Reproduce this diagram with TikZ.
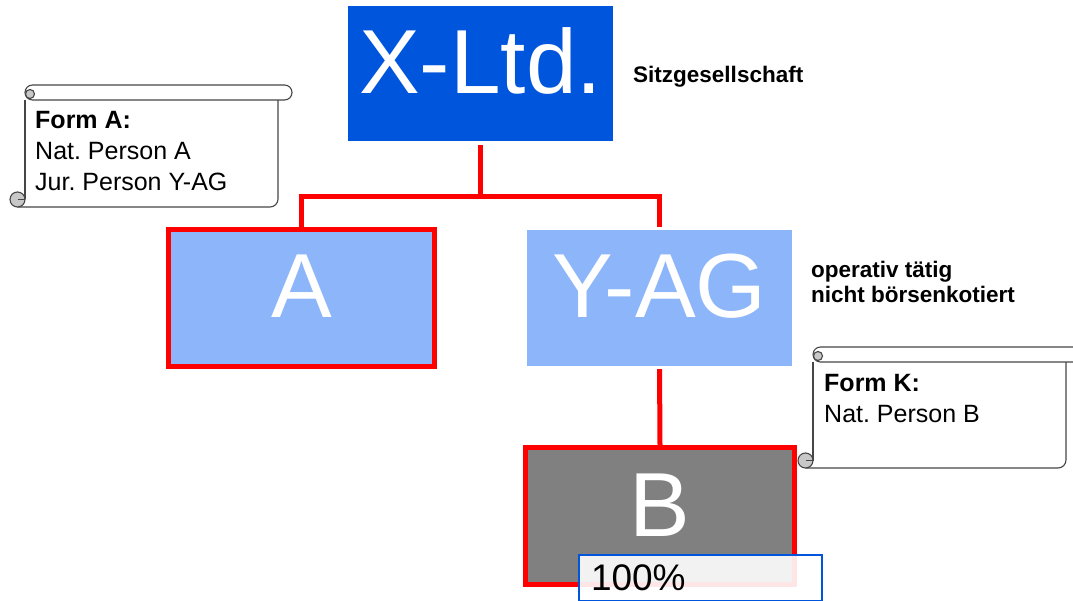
\documentclass[tikz,border=0pt]{standalone}
\usepackage{fontspec}
\setmainfont{Liberation Sans}
\frenchspacing
\definecolor{xblue}{RGB}{0,85,221}
\definecolor{lblue}{RGB}{141,182,250}
\definecolor{bgray}{RGB}{128,128,128}
\definecolor{scrl}{RGB}{70,70,70}
\definecolor{curl}{RGB}{200,200,200}
\newcommand\scrollnote[4]{%
  \fill[white] (#1,#2+7.5) rectangle (#3,#4);
  \draw[scrollline] (#1,#2+15) -- (#1,#4-7.5);
  \draw[scrollline, rounded corners=8pt] (#1-7.5,#4) -- (#3,#4) -- (#3,#2+15);
  \draw[scrollline, fill=white, rounded corners=7.5pt] (#1,#2) rectangle (#3+14,#2+15);
  \draw[scrollline, fill=curl] (#1+5,#2+9) circle (4.5pt);
  \draw[scrollline, fill=curl] (#1-7.5,#4-7.5) circle (7.5pt);
  \draw[scrollline] (#1-7.5,#4-7.5) -- (#1,#4-7.5);
}
\begin{document}
\begin{tikzpicture}[x=1pt,y=-1pt,
  scrollline/.style={draw=scrl, line width=1.1pt},
  big/.style={font=\fontsize{91}{91}\selectfont, text=white, text height=65pt, text depth=25pt, inner sep=0pt, rectangle},
  redbox/.style={draw=red, line width=5pt},
  conn/.style={draw=red, line width=5pt},
  side/.style={font=\fontsize{22.5}{25}\selectfont\bfseries, align=left, inner sep=0pt},
  notetext/.style={font=\fontsize{25}{31}\selectfont, align=left, inner sep=0pt},
  pct/.style={draw=xblue, line width=2pt, fill=white, fill opacity=0.9, text opacity=1,
    minimum height=46pt, text width=219pt, inner xsep=12pt, inner ysep=0pt, align=left,
    font=\fontsize{37}{37}\selectfont}]
\useasboundingbox (0,0) rectangle (1073,601);
\fill[white] (0,0) rectangle (1073,601);

% boxes
\node[big, fill=xblue, minimum width=265pt, minimum height=135pt] (X) at (480.5,73.5) {X-Ltd.};
\node[big, redbox, fill=lblue, minimum width=266pt, minimum height=137pt] (A) at (301.5,298) {A};
\node[big, fill=lblue, minimum width=265pt, minimum height=136pt] (Y) at (659.5,298) {Y-AG};
\node[big, redbox, fill=bgray, minimum width=269pt, minimum height=137pt] (B) at (660,516) {B};

% connectors
\coordinate (J) at (480.5,197);
\draw[conn, shorten <=4pt] (X.south) -- (J);
\draw[conn, shorten >=3pt] (A.north) |- (J) -| (Y.north);
\draw[conn, shorten <=3pt] (Y.south) -- (B.north);

% percentage box
\node[pct, anchor=north west] (P) at (578,554) {100\%};

% side texts (base = baseline of last line)
\node[side, anchor=base west] (S1) at (633,83) {Sitzgesellschaft};
\node[side, anchor=base west] (S2) at (811,303) {operativ tätig\\nicht börsenkotiert};

% notes
\scrollnote{25}{85}{278}{207}
\node[notetext, anchor=base west] (FA) at (35,191) {\textbf{Form A:}\\Nat. Person A\\Jur. Person Y-AG};
\scrollnote{813}{347}{1066}{468}
\node[notetext, anchor=base west] (FK) at (824,422) {\textbf{Form K:}\\Nat. Person B};
\end{tikzpicture}
\end{document}
